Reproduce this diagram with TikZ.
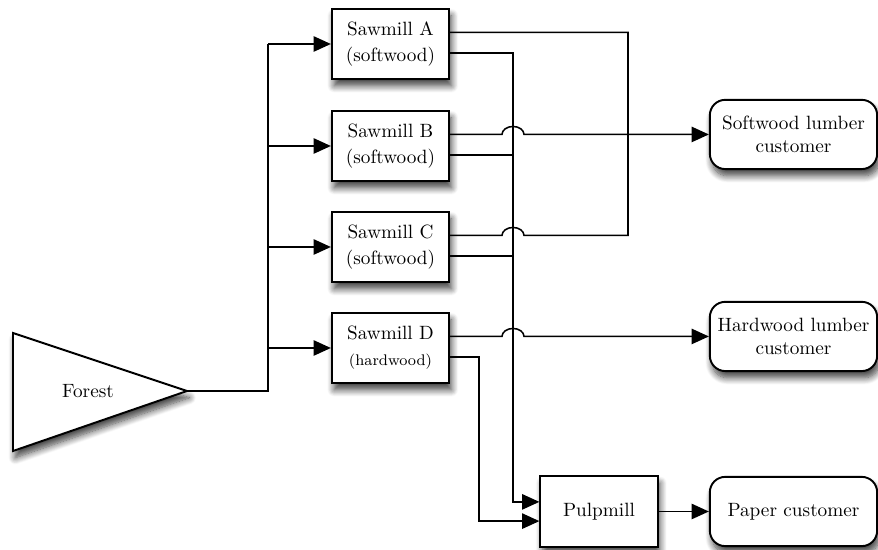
\documentclass[tikz,border=0pt]{standalone}
\usetikzlibrary{arrows.meta,shadows.blur}

\begin{document}
\begin{tikzpicture}[x=0.52pt,y=-0.52pt]

\newcommand{\busx}{268}
\newcommand{\pulpx}{513}
\newcommand{\softx}{628}
\newcommand{\jump}{arc (180:360:11 and 8)}

\tikzstyle{sombra}=[blur shadow={shadow xshift=1.2pt,shadow yshift=-3.5pt,shadow blur radius=3.5pt,shadow blur steps=10,shadow opacity=75}]
\tikzstyle{serra}=[draw,line width=1pt,fill=white,sombra,minimum width=61pt,minimum height=36.5pt,align=center,inner sep=2pt]
\tikzstyle{cliente}=[serra,rounded corners=8pt,minimum width=87pt,minimum height=36pt]
\tikzstyle{fluxo}=[-{Triangle[length=9pt,width=8pt,fill=black]}]

\useasboundingbox (0,0) rectangle (878,550);

\begin{scope}[line width=0.8pt]

% floresta
\draw[line width=1pt,fill=white,sombra] (13,333) -- (187,391) -- (13,451) -- cycle;
\node (forest) at (88,391) {Forest};
\coordinate (forestTip) at (187,391);

% serrarias
\node[serra] (sawA) at (390.5,44) {Sawmill A\\[1.5pt](softwood)};
\node[serra] (sawB) at (390.5,146) {Sawmill B\\[1.5pt](softwood)};
\node[serra] (sawC) at (390.5,247) {Sawmill C\\[1.5pt](softwood)};
\node[serra] (sawD) at (390.5,348) {Sawmill D\\[1.5pt]{\footnotesize(hardwood)}};

\foreach \s in {A,B,C,D}
{
    \coordinate (\s1) at ([yshift=6pt]saw\s.east);
    \coordinate (\s2) at ([yshift=-4.7pt]saw\s.east);
}

\node[serra] (pulpmill) at (599,511.5) {Pulpmill};

\node[cliente] (softwood) at (793.5,0 |- B1) {Softwood lumber\\customer};
\node[cliente] (hardwood) at (793.5,0 |- D1) {Hardwood lumber\\customer};
\node[cliente] (paper) at (793.5,511.5) {Paper customer};

% entrada
\coordinate (fork) at (\busx,391);
\draw (forestTip) -- (fork) -- (fork |- sawA.west);
\foreach \s in {A,B,C,D}
{
    \draw[fluxo] (fork |- saw\s.west) -- (saw\s.west);
}

% madeira macia
\draw (A1) -- (\softx,0 |- A1) -- (\softx,0 |- C1) -- (\pulpx+11,0 |- C1) arc (0:-180:11 and 8) -- (C1);
\draw[fluxo] (B1) -- (\pulpx-11,0 |- B1) \jump -- (softwood.west);
\draw[fluxo] (D1) -- (\pulpx-11,0 |- D1) \jump -- (hardwood.west);

% celulose
\coordinate (pulpIn1) at ([yshift=5pt]pulpmill.west);
\coordinate (pulpIn2) at ([yshift=-5pt]pulpmill.west);
\draw[fluxo] (A2) -- (\pulpx,0 |- A2) |- (pulpIn1);
\draw (B2) -- (\pulpx,0 |- B2);
\draw (C2) -- (\pulpx,0 |- C2);
\draw[fluxo] (D2) -- (479,0 |- D2) |- (pulpIn2);
\draw[fluxo] (pulpmill) -- (paper);

\end{scope}

\end{tikzpicture}
\end{document}
